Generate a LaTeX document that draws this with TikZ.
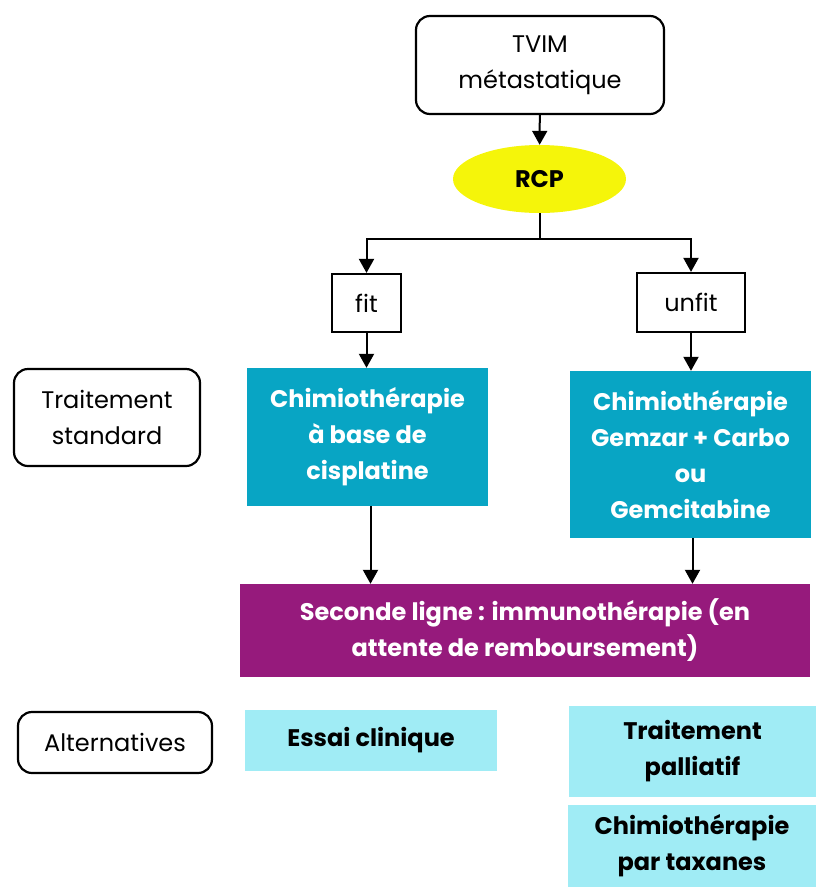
\documentclass[tikz,border=0pt]{standalone}
\usepackage{fontspec}
\setmainfont{Poppins}
\usepackage{xcolor}
\usetikzlibrary{shapes,arrows.meta,positioning,calc}
\definecolor{bleuchimio}{RGB}{8,165,196}
\definecolor{violetimmuno}{RGB}{150,26,124}
\definecolor{bleuclair}{RGB}{160,236,245}
\definecolor{jaunercp}{RGB}{245,245,10}

\begin{document}
\begin{tikzpicture}[x=1pt,y=-1pt,
    txt/.style={align=center, inner sep=0pt, font=\fontsize{24}{36}\selectfont},
    arrondi/.style={txt, rectangle, rounded corners=14pt, draw, line width=2.2pt},
    carre/.style={txt, rectangle, draw, line width=2.2pt},
    chimio/.style={txt, rectangle, fill=bleuchimio, text=white, font=\fontsize{24}{36}\selectfont\bfseries},
    alt/.style={txt, rectangle, fill=bleuclair, text=black, font=\fontsize{24}{36}\selectfont\bfseries},
    fleche/.style={-{Triangle[width=15pt,length=14pt]}, line width=2pt}]
    \path[use as bounding box] (0,0) rectangle (816,887);
    % haut
    \node[arrondi, minimum width=248pt, minimum height=98pt] (tvim) at (540,65) {TVIM\\métastatique};
    \node[ellipse, fill=jaunercp, inner sep=0pt, minimum width=173pt, minimum height=68pt,
          font=\fontsize{24}{36}\selectfont\bfseries] (rcp) at (539.5,179) {RCP};
    \node[carre, minimum width=69pt, minimum height=58pt] (fit) at (366.5,303) {fit};
    \node[carre, minimum width=108pt, minimum height=59pt] (unfit) at (691,302.5) {unfit};
    % traitement standard
    \node[arrondi, minimum width=186pt, minimum height=97pt] (standard) at (107,417.5) {Traitement\\standard};
    \node[chimio, minimum width=241pt, minimum height=138pt] (cisp) at (367.5,437) {Chimiothérapie\\à base de\\cisplatine};
    \node[chimio, minimum width=241pt, minimum height=167pt] (gemzar) at (690.5,454.5) {Chimiothérapie\\Gemzar + Carbo\\ou\\Gemcitabine};
    \node[chimio, fill=violetimmuno, minimum width=570pt, minimum height=93pt] (immuno) at (525,630.5) {Seconde ligne : immunothérapie (en\\attente de remboursement)};
    % alternatives
    \node[arrondi, minimum width=194pt, minimum height=61pt] (alternatives) at (115,742.5) {Alternatives};
    \node[alt, minimum width=252pt, minimum height=61pt] (essai) at (371,740.5) {Essai clinique};
    \node[alt, minimum width=247pt, minimum height=91pt] (palliatif) at (692.5,751.5) {Traitement\\palliatif};
    \node[alt, minimum width=248pt, minimum height=82pt] (taxanes) at (692,846) {Chimiothérapie\\par taxanes};
    % fleches
    \draw[fleche] (tvim) -- (rcp);
    \draw[line width=2pt] (rcp.south) -- ++(0,26) coordinate (split);
    \draw[fleche] (split) -| (fit);
    \draw[fleche] (split) -| (unfit);
    \draw[fleche] (fit) -- (fit |- cisp.north);
    \draw[fleche] (unfit) -- (unfit |- gemzar.north);
    \draw[fleche] ($(cisp.south)+(3,0)$) -- ($(cisp.south |- immuno.north)+(3,0)$);
    \draw[fleche] ($(gemzar.south)+(2,0)$) -- ($(gemzar.south |- immuno.north)+(2,0)$);
\end{tikzpicture}
\end{document}
